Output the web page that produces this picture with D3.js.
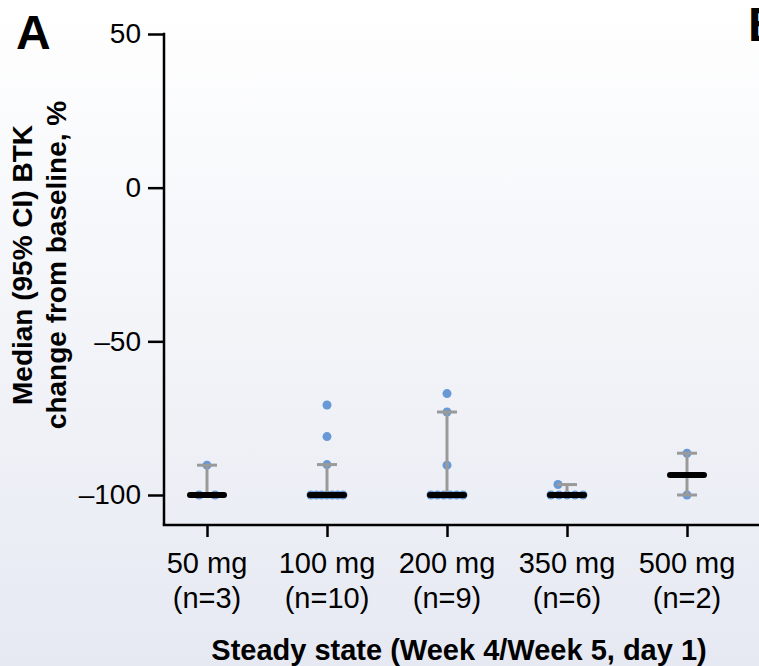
<!DOCTYPE html>
<html>
<head>
<meta charset="utf-8">
<script src="https://cdn.jsdelivr.net/npm/d3@7"></script>
<style>
  html, body { margin: 0; padding: 0; background: #fff; }
  svg { display: block; font-family: "Liberation Sans", Arial, sans-serif; }
</style>
</head>
<body>
<div id="chart"></div>
<script>
// doses on the x axis
var doses = ['50 mg', '100 mg', '200 mg', '350 mg', '500 mg'];
var nLabels = ['(n=3)', '(n=10)', '(n=9)', '(n=6)', '(n=2)'];

// median and 95% CI per dose
var medians = [-100, -100, -100, -100, -93.5];
var ciLow = [-100, -100, -100, -100, -100];
var ciHigh = [-90.3, -90.1, -73, -96.6, -86.4];

// individual patients, % change from baseline
var pts50 = [-90.3, -100, -100];
var pts100 = [-70.7, -81, -90.1, -100, -100, -100, -100, -100, -100, -100];
var pts200 = [-67, -73, -90.3, -100, -100, -100, -100, -100, -100];
var pts350 = [-96.6, -100, -100, -100, -100, -100];
var pts500 = [-86.4, -100];

var yTicks = [50, 0, -50, -100];

var width = 759,
    height = 666,
    margin = { left: 164, top: 34 },
    axisY = 525,      // where the x axis sits
    firstOffset = 43, // first dose from the y axis
    step = 120;

var svg = d3.select('#chart').append('svg')
    .attr('width', width)
    .attr('height', height);

// soft background gradient
var grad = svg.append('defs').append('linearGradient')
    .attr('id', 'bg').attr('x1', 0).attr('y1', 0).attr('x2', 0).attr('y2', 1);
grad.append('stop').attr('offset', '0%').attr('stop-color', '#ffffff');
grad.append('stop').attr('offset', '100%').attr('stop-color', '#e6e9f2');
svg.append('rect').attr('width', width).attr('height', height).attr('fill', 'url(#bg)');

var xScale = d3.scalePoint()
    .domain(doses)
    .range([margin.left + firstOffset, margin.left + firstOffset + step * (doses.length - 1)]);

var yScale = d3.scaleLinear()
    .domain([-100, 50])
    .range([495, margin.top]);

// spread equal values sideways, like a dot plot
function layout(vals) {
    var groups = d3.group(vals, function (v) { return v; });
    var out = [];
    groups.forEach(function (arr, v) {
        var k = arr.length;
        var sp = k > 1 ? Math.min(16, 32 / (k - 1)) : 0;
        arr.forEach(function (d, i) {
            out.push({ v: v, k: k, dx: (i - (k - 1) / 2) * sp });
        });
    });
    // lone points that sit right on top of a crowd are nudged aside
    out.forEach(function (p) {
        if (p.k > 1) return;
        var crowd = out.some(function (q) {
            return q.k > 1 && Math.abs(yScale(q.v) - yScale(p.v)) < 12;
        });
        if (crowd) p.dx = -9;
    });
    return out;
}

var allPts = [pts50, pts100, pts200, pts350, pts500];
var dots = [];
allPts.forEach(function (vals, i) {
    layout(vals).forEach(function (p) {
        p.dose = doses[i];
        dots.push(p);
    });
});

var g = svg.append('g');

// patient dots
g.selectAll('circle.pt')
    .data(dots)
    .enter().append('circle')
    .attr('class', 'pt')
    .attr('cx', function (d) { return xScale(d.dose) + d.dx; })
    .attr('cy', function (d) { return yScale(d.v); })
    .attr('r', 4.5)
    .attr('fill', '#6899d5');

// CI whiskers
var ci = doses.map(function (d, i) { return { dose: d, lo: ciLow[i], hi: ciHigh[i], med: medians[i] }; });
var wcol = '#9a9a9a', capW = 10;
g.selectAll('line.ci')
    .data(ci).enter().append('line')
    .attr('x1', function (d) { return xScale(d.dose); })
    .attr('x2', function (d) { return xScale(d.dose); })
    .attr('y1', function (d) { return yScale(d.lo); })
    .attr('y2', function (d) { return yScale(d.hi); })
    .attr('stroke', wcol).attr('stroke-width', 3);
['lo', 'hi'].forEach(function (key) {
    g.selectAll('line.cap-' + key)
        .data(ci).enter().append('line')
        .attr('x1', function (d) { return xScale(d.dose) - capW; })
        .attr('x2', function (d) { return xScale(d.dose) + capW; })
        .attr('y1', function (d) { return yScale(d[key]); })
        .attr('y2', function (d) { return yScale(d[key]); })
        .attr('stroke', wcol).attr('stroke-width', 3);
});

// median bars
g.selectAll('line.med')
    .data(ci).enter().append('line')
    .attr('x1', function (d) { return xScale(d.dose) - 17; })
    .attr('x2', function (d) { return xScale(d.dose) + 17; })
    .attr('y1', function (d) { return yScale(d.med); })
    .attr('y2', function (d) { return yScale(d.med); })
    .attr('stroke', '#000').attr('stroke-width', 6)
    .attr('stroke-linecap', 'round');

// y axis
var yAxis = d3.axisLeft(yScale)
    .tickValues(yTicks)
    .tickSize(16)
    .tickPadding(7)
    .tickFormat(function (v) { return v < 0 ? '\u2013' + Math.abs(v) : v; });
var yG = svg.append('g')
    .attr('transform', 'translate(' + margin.left + ',0)')
    .call(yAxis);
yG.select('.domain').remove();
yG.selectAll('line').attr('stroke', '#000').attr('stroke-width', 2.5);
yG.selectAll('text').attr('font-size', 28).attr('fill', '#000')
    .attr('font-family', '"Liberation Sans", Arial, sans-serif');
svg.append('line')
    .attr('x1', margin.left).attr('x2', margin.left)
    .attr('y1', yScale(50) - 1.25).attr('y2', axisY)
    .attr('stroke', '#000').attr('stroke-width', 2.5);

// x axis
var xAxis = d3.axisBottom(xScale).tickSize(12).tickSizeOuter(0).tickFormat('');
var xG = svg.append('g')
    .attr('transform', 'translate(0,' + axisY + ')')
    .call(xAxis);
xG.select('.domain').remove();
xG.selectAll('line').attr('stroke', '#000').attr('stroke-width', 2.5);
svg.append('line')
    .attr('x1', margin.left - 1.25).attr('x2', width + 5)
    .attr('y1', axisY).attr('y2', axisY)
    .attr('stroke', '#000').attr('stroke-width', 2.5);

var lab = svg.append('g')
    .attr('font-size', 29).attr('text-anchor', 'middle').attr('fill', '#000');
lab.selectAll('text.dose')
    .data(doses).enter().append('text')
    .attr('x', function (d) { return xScale(d); })
    .attr('y', 573)
    .text(function (d) { return d; });
lab.selectAll('text.n')
    .data(doses).enter().append('text')
    .attr('x', function (d) { return xScale(d); })
    .attr('y', 608)
    .text(function (d, i) { return nLabels[i]; });

// axis titles
svg.append('text')
    .attr('x', 459).attr('y', 660)
    .attr('text-anchor', 'middle')
    .attr('font-size', 29).attr('font-weight', 'bold')
    .text('Steady state (Week 4/Week 5, day 1)');

var yTitle = svg.append('text')
    .attr('transform', 'translate(32,265) rotate(-90)')
    .attr('text-anchor', 'middle')
    .attr('font-size', 28).attr('font-weight', 'bold');
yTitle.append('tspan').attr('x', 0).attr('y', 0).text('Median (95% CI) BTK');
yTitle.append('tspan').attr('x', 0).attr('y', 34).text('change from baseline, %');

// panel letters
svg.append('text').attr('x', 16).attr('y', 49)
    .attr('font-size', 48).attr('font-weight', 'bold').text('A');
svg.append('text').attr('x', 748).attr('y', 41)
    .attr('font-size', 48).attr('font-weight', 'bold').text('B');
</script>
</body>
</html>
